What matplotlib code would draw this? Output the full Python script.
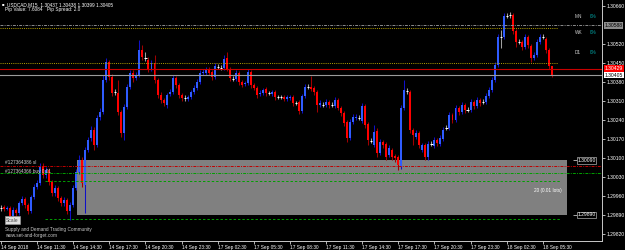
import numpy as np
import matplotlib.pyplot as plt
from matplotlib.patches import Rectangle
from matplotlib.transforms import blended_transform_factory

plt.rcParams['font.family'] = ['Liberation Sans', 'DejaVu Sans']

# USDCAD M15 candles, 14 Sep 2018 08:30 onwards
opens = [
    1.29914, 1.29918, 1.29911, 1.29914, 1.29885, 1.29907, 1.29896, 1.29933, 1.29948, 1.29925,
    1.29903, 1.29955, 1.29992, 1.30007, 1.30069, 1.30036, 1.30055, 1.30010, 1.29970, 1.29988,
    1.29951, 1.29933, 1.29944, 1.29903, 1.29925, 1.29988, 1.30047, 1.30092, 1.29999, 1.30128,
    1.30173, 1.30202, 1.30147, 1.30250, 1.30269, 1.30387, 1.30453, 1.30398, 1.30342, 1.30339,
    1.30269, 1.30191, 1.30287, 1.30361, 1.30413, 1.30394, 1.30405, 1.30497, 1.30468, 1.30461,
    1.30427, 1.30449, 1.30387, 1.30331, 1.30313, 1.30294, 1.30335, 1.30342, 1.30394, 1.30368,
    1.30331, 1.30320, 1.30317, 1.30324, 1.30342, 1.30357, 1.30379, 1.30413, 1.30413, 1.30427,
    1.30416, 1.30398, 1.30435, 1.30431, 1.30431, 1.30468, 1.30427, 1.30390, 1.30390, 1.30413,
    1.30379, 1.30372, 1.30376, 1.30416, 1.30368, 1.30357, 1.30335, 1.30339, 1.30354, 1.30339,
    1.30335, 1.30342, 1.30324, 1.30324, 1.30324, 1.30317, 1.30320, 1.30324, 1.30302, 1.30306,
    1.30272, 1.30328, 1.30361, 1.30361, 1.30357, 1.30342, 1.30294, 1.30294, 1.30294, 1.30306,
    1.30294, 1.30291, 1.30313, 1.30283, 1.30265, 1.30232, 1.30173, 1.30232, 1.30247, 1.30247,
    1.30235, 1.30291, 1.30224, 1.30162, 1.30147, 1.30199, 1.30117, 1.30158, 1.30151, 1.30110,
    1.30128, 1.30106, 1.30103, 1.30066, 1.30283, 1.30346, 1.30342, 1.30202, 1.30176, 1.30191,
    1.30128, 1.30147, 1.30103, 1.30151, 1.30143, 1.30165, 1.30151, 1.30169, 1.30210, 1.30210,
    1.30258, 1.30239, 1.30283, 1.30269, 1.30294, 1.30276, 1.30276, 1.30306, 1.30291, 1.30313,
    1.30306, 1.30306, 1.30328, 1.30350, 1.30387, 1.30442, 1.30545, 1.30545, 1.30623, 1.30627,
    1.30627, 1.30568, 1.30527, 1.30527, 1.30509, 1.30545, 1.30512, 1.30468, 1.30479, 1.30527,
    1.30545, 1.30538, 1.30497, 1.30437,
]
closes = [
    1.29914, 1.29911, 1.29914, 1.29885, 1.29907, 1.29896, 1.29933, 1.29948, 1.29925, 1.29903,
    1.29955, 1.29992, 1.30007, 1.30069, 1.30036, 1.30055, 1.30010, 1.29970, 1.29988, 1.29951,
    1.29933, 1.29944, 1.29903, 1.29925, 1.29988, 1.30047, 1.30092, 1.30007, 1.30128, 1.30165,
    1.30202, 1.30147, 1.30247, 1.30269, 1.30387, 1.30453, 1.30398, 1.30339, 1.30342, 1.30269,
    1.30191, 1.30287, 1.30361, 1.30413, 1.30394, 1.30405, 1.30497, 1.30472, 1.30468, 1.30427,
    1.30449, 1.30387, 1.30331, 1.30313, 1.30302, 1.30331, 1.30342, 1.30394, 1.30368, 1.30331,
    1.30320, 1.30320, 1.30324, 1.30342, 1.30357, 1.30379, 1.30413, 1.30416, 1.30424, 1.30413,
    1.30398, 1.30438, 1.30435, 1.30431, 1.30464, 1.30427, 1.30394, 1.30390, 1.30413, 1.30379,
    1.30368, 1.30376, 1.30416, 1.30368, 1.30357, 1.30331, 1.30339, 1.30350, 1.30339, 1.30339,
    1.30342, 1.30324, 1.30324, 1.30324, 1.30317, 1.30324, 1.30324, 1.30302, 1.30302, 1.30272,
    1.30328, 1.30361, 1.30361, 1.30354, 1.30342, 1.30294, 1.30302, 1.30294, 1.30306, 1.30294,
    1.30294, 1.30313, 1.30283, 1.30265, 1.30228, 1.30173, 1.30232, 1.30250, 1.30250, 1.30247,
    1.30291, 1.30221, 1.30165, 1.30162, 1.30195, 1.30117, 1.30158, 1.30147, 1.30103, 1.30136,
    1.30103, 1.30099, 1.30073, 1.30283, 1.30350, 1.30346, 1.30202, 1.30184, 1.30191, 1.30147,
    1.30147, 1.30103, 1.30151, 1.30151, 1.30165, 1.30154, 1.30173, 1.30202, 1.30210, 1.30258,
    1.30239, 1.30283, 1.30269, 1.30294, 1.30276, 1.30276, 1.30306, 1.30291, 1.30313, 1.30302,
    1.30306, 1.30328, 1.30350, 1.30387, 1.30442, 1.30545, 1.30545, 1.30623, 1.30623, 1.30627,
    1.30568, 1.30527, 1.30527, 1.30509, 1.30545, 1.30516, 1.30468, 1.30479, 1.30527, 1.30545,
    1.30545, 1.30497, 1.30437, 1.30405,
]
highs = [
    1.29925, 1.29925, 1.29922, 1.29922, 1.29918, 1.29914, 1.29940, 1.29959, 1.29955, 1.29933,
    1.29962, 1.30003, 1.30018, 1.30080, 1.30080, 1.30066, 1.30062, 1.30018, 1.29999, 1.29996,
    1.29959, 1.29955, 1.29951, 1.29937, 1.29999, 1.30058, 1.30110, 1.30103, 1.30140, 1.30176,
    1.30217, 1.30213, 1.30258, 1.30283, 1.30405, 1.30468, 1.30461, 1.30409, 1.30354, 1.30387,
    1.30276, 1.30298, 1.30372, 1.30424, 1.30424, 1.30416, 1.30534, 1.30516, 1.30490, 1.30472,
    1.30461, 1.30479, 1.30394, 1.30342, 1.30320, 1.30339, 1.30354, 1.30405, 1.30402, 1.30376,
    1.30339, 1.30331, 1.30331, 1.30350, 1.30368, 1.30390, 1.30424, 1.30427, 1.30435, 1.30435,
    1.30424, 1.30449, 1.30446, 1.30442, 1.30479, 1.30490, 1.30435, 1.30402, 1.30424, 1.30420,
    1.30387, 1.30383, 1.30427, 1.30424, 1.30376, 1.30365, 1.30350, 1.30357, 1.30361, 1.30346,
    1.30350, 1.30350, 1.30331, 1.30331, 1.30331, 1.30331, 1.30331, 1.30331, 1.30309, 1.30313,
    1.30335, 1.30372, 1.30372, 1.30402, 1.30365, 1.30350, 1.30313, 1.30306, 1.30317, 1.30313,
    1.30306, 1.30324, 1.30320, 1.30291, 1.30272, 1.30239, 1.30243, 1.30261, 1.30261, 1.30258,
    1.30302, 1.30298, 1.30232, 1.30173, 1.30221, 1.30210, 1.30169, 1.30165, 1.30158, 1.30147,
    1.30136, 1.30114, 1.30110, 1.30294, 1.30387, 1.30357, 1.30350, 1.30210, 1.30202, 1.30199,
    1.30154, 1.30154, 1.30162, 1.30162, 1.30176, 1.30173, 1.30184, 1.30213, 1.30221, 1.30269,
    1.30265, 1.30294, 1.30291, 1.30306, 1.30302, 1.30287, 1.30317, 1.30313, 1.30324, 1.30320,
    1.30317, 1.30339, 1.30361, 1.30398, 1.30453, 1.30556, 1.30571, 1.30634, 1.30634, 1.30638,
    1.30634, 1.30575, 1.30538, 1.30534, 1.30556, 1.30553, 1.30520, 1.30490, 1.30538, 1.30556,
    1.30556, 1.30545, 1.30505, 1.30438,
]
lows = [
    1.29903, 1.29903, 1.29907, 1.29874, 1.29878, 1.29885, 1.29889, 1.29925, 1.29914, 1.29892,
    1.29896, 1.29948, 1.29985, 1.29999, 1.30025, 1.30025, 1.29999, 1.29959, 1.29959, 1.29940,
    1.29922, 1.29922, 1.29892, 1.29870, 1.29918, 1.29981, 1.30040, 1.29992, 1.29896, 1.30121,
    1.30162, 1.30128, 1.30140, 1.30239, 1.30261, 1.30379, 1.30387, 1.30328, 1.30331, 1.30258,
    1.30176, 1.30165, 1.30280, 1.30354, 1.30379, 1.30387, 1.30398, 1.30461, 1.30457, 1.30416,
    1.30420, 1.30376, 1.30320, 1.30302, 1.30291, 1.30283, 1.30328, 1.30335, 1.30357, 1.30320,
    1.30309, 1.30309, 1.30309, 1.30317, 1.30335, 1.30350, 1.30372, 1.30405, 1.30405, 1.30405,
    1.30387, 1.30390, 1.30427, 1.30424, 1.30424, 1.30420, 1.30383, 1.30383, 1.30383, 1.30368,
    1.30361, 1.30365, 1.30368, 1.30357, 1.30350, 1.30320, 1.30328, 1.30331, 1.30328, 1.30331,
    1.30328, 1.30313, 1.30317, 1.30317, 1.30309, 1.30309, 1.30313, 1.30291, 1.30294, 1.30261,
    1.30265, 1.30320, 1.30354, 1.30346, 1.30331, 1.30269, 1.30287, 1.30287, 1.30287, 1.30283,
    1.30287, 1.30283, 1.30276, 1.30254, 1.30217, 1.30158, 1.30165, 1.30224, 1.30239, 1.30239,
    1.30228, 1.30210, 1.30147, 1.30154, 1.30140, 1.30103, 1.30110, 1.30136, 1.30092, 1.30103,
    1.30092, 1.30084, 1.30055, 1.30058, 1.30276, 1.30335, 1.30191, 1.30147, 1.30169, 1.30136,
    1.30121, 1.30092, 1.30092, 1.30143, 1.30136, 1.30143, 1.30143, 1.30162, 1.30202, 1.30202,
    1.30228, 1.30232, 1.30258, 1.30261, 1.30265, 1.30269, 1.30269, 1.30280, 1.30283, 1.30291,
    1.30298, 1.30298, 1.30320, 1.30342, 1.30379, 1.30435, 1.30505, 1.30538, 1.30616, 1.30616,
    1.30556, 1.30509, 1.30520, 1.30497, 1.30501, 1.30505, 1.30453, 1.30461, 1.30472, 1.30520,
    1.30538, 1.30486, 1.30427, 1.30399,
]

time_labels = [
    "14 Sep 2018", "14 Sep 11:30", "14 Sep 14:30", "14 Sep 17:30", "14 Sep 20:30",
    "14 Sep 23:30", "17 Sep 02:30", "17 Sep 05:30", "17 Sep 08:30", "17 Sep 11:30",
    "17 Sep 14:30", "17 Sep 17:30", "17 Sep 20:30", "17 Sep 23:30", "18 Sep 02:30",
    "18 Sep 05:30",
]
# 1.30590 sits under the 1.30588 tag, so it is left out
price_ticks = [1.30660, 1.30520, 1.30450, 1.30380, 1.30310, 1.30240,
               1.30170, 1.30100, 1.30030, 1.29960, 1.29890, 1.29820]

# horizontal levels
grey_level = 1.30588
yellow_top = 1.30579
yellow_mid = 1.30449
ask_price = 1.30429
bid_price = 1.30405
zone_top = 1.30090
zone_bottom = 1.29890
sl_price = 1.30069
buy_price = 1.30044
green_upper = 1.30014
green_lower = 1.29874

DASHDOT = (0, (3, 1.2, 1, 1.2))
DOTTED = (0, (1, 1.2))
DASHED = (0, (2.5, 2))

W, H = 625, 250
fig = plt.figure(figsize=(W / 100, H / 100), dpi=100, facecolor='black')
ax = fig.add_axes([0, 9 / H, 602 / W, 241 / H], facecolor='black')
ax.set_xlim(-0.33, 199.67)
ax.set_ylim(1.29793, 1.30682)


def px(x, y):
    return x / W, 1 - y / H


o = np.array(opens)
c = np.array(closes)
hi = np.array(highs)
lo = np.array(lows)
x = np.arange(len(o))
up = c > o
dn = c < o
dj = c == o

# zone rectangle behind the candles
ax.add_patch(Rectangle((25.3, zone_bottom), 188 - 25.3, zone_top - zone_bottom,
                       facecolor='#808080', edgecolor='none', zorder=1))

ax.vlines(x[up], lo[up], hi[up], color='#1010C8', lw=0.75, zorder=3)
ax.vlines(x[dn], lo[dn], hi[dn], color='#A00000', lw=0.75, zorder=3)
ax.vlines(x[dj], lo[dj], hi[dj], color='#A0A0A0', lw=0.75, zorder=3)
ax.bar(x[up], np.maximum(c - o, 3e-5)[up], bottom=o[up], width=0.66,
       color='#2F5CFF', lw=0, zorder=4)
ax.bar(x[dn], np.maximum(o - c, 3e-5)[dn], bottom=c[dn], width=0.66,
       color='#FF0000', lw=0, zorder=4)
ax.hlines(c[dj], x[dj] - 0.36, x[dj] + 0.36, color='white', lw=0.75, zorder=4)

# levels
ax.axhline(grey_level, color='#8C8C8C', lw=0.7, linestyle=DASHDOT, zorder=5)
ax.hlines(yellow_top, -0.33, 185, color='#B4A000', lw=0.7, linestyles=[DOTTED], zorder=5)
ax.hlines(yellow_mid, -0.33, 185, color='#B4A000', lw=0.7, linestyles=[DOTTED], zorder=5)
ax.axhline(ask_price, color='#C80000', lw=0.8, zorder=5)
ax.axhline(bid_price, color='#9A9A9A', lw=0.8, zorder=5)
ax.axhline(sl_price, color='#C00000', lw=0.7, linestyle=DASHDOT, zorder=5)
ax.axhline(buy_price, color='#00A000', lw=0.7, linestyle=DASHDOT, zorder=5)
ax.hlines(green_upper, 14.6, 185.7, color='#00A000', lw=0.7, linestyles=[DASHED], zorder=5)
ax.hlines(green_lower, 14.6, 185.7, color='#00A000', lw=0.7, linestyles=[DASHED], zorder=5)

# in-chart price tags for the zone
for lvl in (zone_top, zone_bottom):
    ax.hlines(lvl, 190.0, 191.3, color='#C0C0C0', lw=0.6, zorder=6)
    ax.text(191.5, lvl, f"{lvl:.5f}", color='white', fontsize=3.6, va='center', ha='left',
            bbox=dict(facecolor='black', edgecolor='#B0B0B0', lw=0.5, pad=0.5), zorder=7)

# axes styling
for s in ('left', 'top'):
    ax.spines[s].set_visible(False)
for s in ('right', 'bottom'):
    ax.spines[s].set_color('#C8C8C8')
    ax.spines[s].set_linewidth(0.7)

ax.yaxis.tick_right()
ax.set_yticks(price_ticks)
ax.set_yticklabels([f"{p:.5f}" for p in price_ticks])
ax.tick_params(axis='y', colors='white', labelsize=3.6, length=2, width=0.5, pad=1)
ax.set_xticks(np.arange(0, 12 * len(time_labels), 12))
ax.set_xticklabels(time_labels, ha='left')
ax.tick_params(axis='x', colors='white', labelsize=3.4, length=2, width=0.5, pad=0.6)

# price tags on the axis
tr = blended_transform_factory(ax.transAxes, ax.transData)
ax.text(1.004, grey_level, f"{grey_level:.5f}", transform=tr, color='black', fontsize=3.6,
        va='center', ha='left', bbox=dict(facecolor='#8C8C8C', edgecolor='none', pad=0.6),
        zorder=8, clip_on=False)
ax.text(1.004, ask_price, f"{ask_price:.5f}", transform=tr, color='white', fontsize=3.6,
        va='center', ha='left', bbox=dict(facecolor='#FF0000', edgecolor='none', pad=0.6),
        zorder=8, clip_on=False)
ax.text(1.004, bid_price, f"{bid_price:.5f}", transform=tr, color='black', fontsize=3.6,
        va='center', ha='left', bbox=dict(facecolor='white', edgecolor='none', pad=0.6),
        zorder=8, clip_on=False)

# header
fig.text(*px(1.5, 4.5), "■", color='white', fontsize=3, va='center')
fig.text(*px(7, 4.5), "USDCAD,M15  1.30437 1.30438 1.30399 1.30405",
         color='white', fontsize=3.4, va='center')
fig.text(*px(5, 10), "Pip Value: 7.6084", color='white', fontsize=3.4, va='center')
fig.text(*px(47, 10), "Pip Spread: 2.0", color='white', fontsize=3.4, va='center')

# timeframe range labels
for lab, yy in (("MN", 16), ("WK", 33), ("D1", 52)):
    fig.text(*px(575, yy), lab, color='#D0D0D0', fontsize=3.4, va='center')
    fig.text(*px(590, yy), "0%", color='#00A8A8', fontsize=3.4, va='center')

# trade labels
fig.text(*px(5, 163), "#127364386 sl", color='#D0D0D0', fontsize=3.4, va='center')
fig.text(*px(5, 171), "#127364366 buy 0.01", color='#D0D0D0', fontsize=3.4, va='center')
fig.text(*px(534, 190.5), "20 (0.01 lots)", color='white', fontsize=3.4, va='center')

fig.text(*px(6, 220), "Scale", color='#505050', fontsize=3.6, va='center',
         bbox=dict(facecolor='#E0E0E0', edgecolor='#A0A0A0', lw=0.4, pad=0.8))
fig.text(*px(5, 229), "Supply and Demand Trading Community", color='#C8C8C8',
         fontsize=3.4, va='center')
fig.text(*px(5, 235), "www.set-and-forget.com", color='#C8C8C8', fontsize=3.4, va='center')

fig.savefig('out.png', dpi=100, facecolor='black')
